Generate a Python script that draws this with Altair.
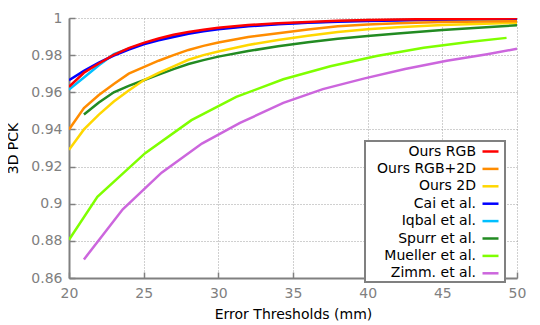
import altair as alt
import pandas as pd

series_names = ["Ours RGB", "Ours RGB+2D", "Ours 2D", "Cai et al.", "Iqbal et al.",
                "Spurr et al.", "Mueller et al.", "Zimm. et al."]
series_colors = ["#ff0000", "#ff8c00", "#ffd700", "#0000ff", "#00bfff",
                 "#228b22", "#7fff00", "#cc66dd"]

x_std = [20, 21, 22, 23, 24, 25, 26, 27, 28, 29, 30, 32, 34, 36, 38, 40, 42, 45, 50]

ours_rgb = [0.963, 0.9705, 0.9755, 0.9802, 0.9838, 0.9866, 0.989, 0.991, 0.9925, 0.9937,
            0.9947, 0.9962, 0.9972, 0.9979, 0.9985, 0.9989, 0.9992, 0.9995, 0.9998]
ours_rgb2d = [0.940, 0.9515, 0.9585, 0.9645, 0.970, 0.9735, 0.977, 0.980, 0.9828, 0.985,
              0.9868, 0.9898, 0.9918, 0.9938, 0.9955, 0.9965, 0.9972, 0.9978, 0.9983]
ours_2d = [0.929, 0.940, 0.948, 0.955, 0.961, 0.9665, 0.9705, 0.974, 0.9775, 0.980,
           0.982, 0.9855, 0.9882, 0.9905, 0.9925, 0.994, 0.995, 0.9962, 0.9974]
cai = [0.9665, 0.9715, 0.976, 0.9798, 0.983, 0.9858, 0.988, 0.9898, 0.9915, 0.9928,
       0.994, 0.9955, 0.9966, 0.9974, 0.998, 0.9984, 0.9987, 0.999, 0.9993]
iqbal = [0.9615, 0.968, 0.9745, 0.9805, 0.9835, 0.9862, 0.9885, 0.9904, 0.992, 0.9932,
         0.9943, 0.9958, 0.9969, 0.9976, 0.9982, 0.9986, 0.9989, 0.9992, 0.9995]

x_spurr = [21, 22, 23, 24, 25, 26, 27, 28, 29, 30, 32, 34, 36, 38, 40, 42, 45, 50]
spurr = [0.948, 0.9545, 0.960, 0.9635, 0.9665, 0.9695, 0.9725, 0.9752, 0.9773, 0.9792,
         0.9822, 0.9848, 0.987, 0.9888, 0.9903, 0.9917, 0.9935, 0.9961]

x_mueller = [20, 21.9, 25.1, 28.2, 31.2, 34.35, 37.5, 40.6, 43.75, 46.9, 49.3]
mueller = [0.8806, 0.9037, 0.9272, 0.945, 0.9575, 0.967, 0.974, 0.9795, 0.984, 0.9872, 0.9893]

x_zimm = [21, 23.6, 26.2, 28.9, 31.45, 34.35, 37.0, 39.8, 42.5, 45.3, 48, 50]
zimm = [0.870, 0.897, 0.9167, 0.9324, 0.9435, 0.9543, 0.9617, 0.9675, 0.9725, 0.977, 0.9805, 0.9834]

x_ticks = [20, 25, 30, 35, 40, 45, 50]
y_ticks = [0.86, 0.88, 0.9, 0.92, 0.94, 0.96, 0.98, 1.0]

series_data = {
    "Ours RGB": (x_std, ours_rgb),
    "Ours RGB+2D": (x_std, ours_rgb2d),
    "Ours 2D": (x_std, ours_2d),
    "Cai et al.": (x_std, cai),
    "Iqbal et al.": (x_std, iqbal),
    "Spurr et al.": (x_spurr, spurr),
    "Mueller et al.": (x_mueller, mueller),
    "Zimm. et al.": (x_zimm, zimm),
}

rows = []
# draw in reverse order so "Ours RGB" ends up on top
for name in reversed(series_names):
    xs, ys = series_data[name]
    for xv, yv in zip(xs, ys):
        rows.append({"series": name, "threshold": xv, "pck": yv})
df = pd.DataFrame(rows)

chart = alt.Chart(df).mark_line(strokeWidth=2.5, clip=True).encode(
    x=alt.X("threshold:Q",
            scale=alt.Scale(domain=[20, 50], nice=False, zero=False),
            axis=alt.Axis(values=x_ticks, title="Error Thresholds (mm)",
                          labelFlush=False, labelPadding=14, titlePadding=7)),
    y=alt.Y("pck:Q",
            scale=alt.Scale(domain=[0.86, 1.0], nice=False, zero=False),
            axis=alt.Axis(values=y_ticks, format="~g", title="3D PCK",
                          labelFlush=False, labelPadding=13, titlePadding=10)),
    color=alt.Color("series:N",
                    scale=alt.Scale(domain=series_names, range=series_colors),
                    legend=alt.Legend(title=None, orient="none", legendX=296, legendY=123,
                                      symbolType="stroke", symbolSize=256,
                                      symbolStrokeWidth=2.5, labelAlign="right",
                                      symbolOffset=115, labelOffset={"expr": "-24"},
                                      padding=1, rowPadding=0.4)),
).properties(
    width=448, height=260,
    autosize=alt.AutoSizeParams(type="none"),
    padding={"left": 61, "top": 10, "right": 15, "bottom": 43},
).configure_view(
    strokeWidth=0
).configure_axis(
    domainColor="#808080", domainWidth=2,
    grid=True, gridColor="#a0a0a0", gridDash=[1, 2], gridWidth=1,
    ticks=True, tickSize={"expr": "-6"}, tickColor="#808080", tickWidth=1.5,
    labelColor="#808080", labelFont="DejaVu Sans", labelFontSize=14,
    titleColor="#000000", titleFont="DejaVu Sans", titleFontSize=14, titleFontWeight="normal",
).configure_legend(
    strokeColor="#808080", strokeWidth=2, fillColor="#ffffff",
    labelFont="DejaVu Sans", labelFontSize=14, labelColor="#000000",
)

chart.save("out.html", embed_options={"renderer": "svg", "actions": False})
